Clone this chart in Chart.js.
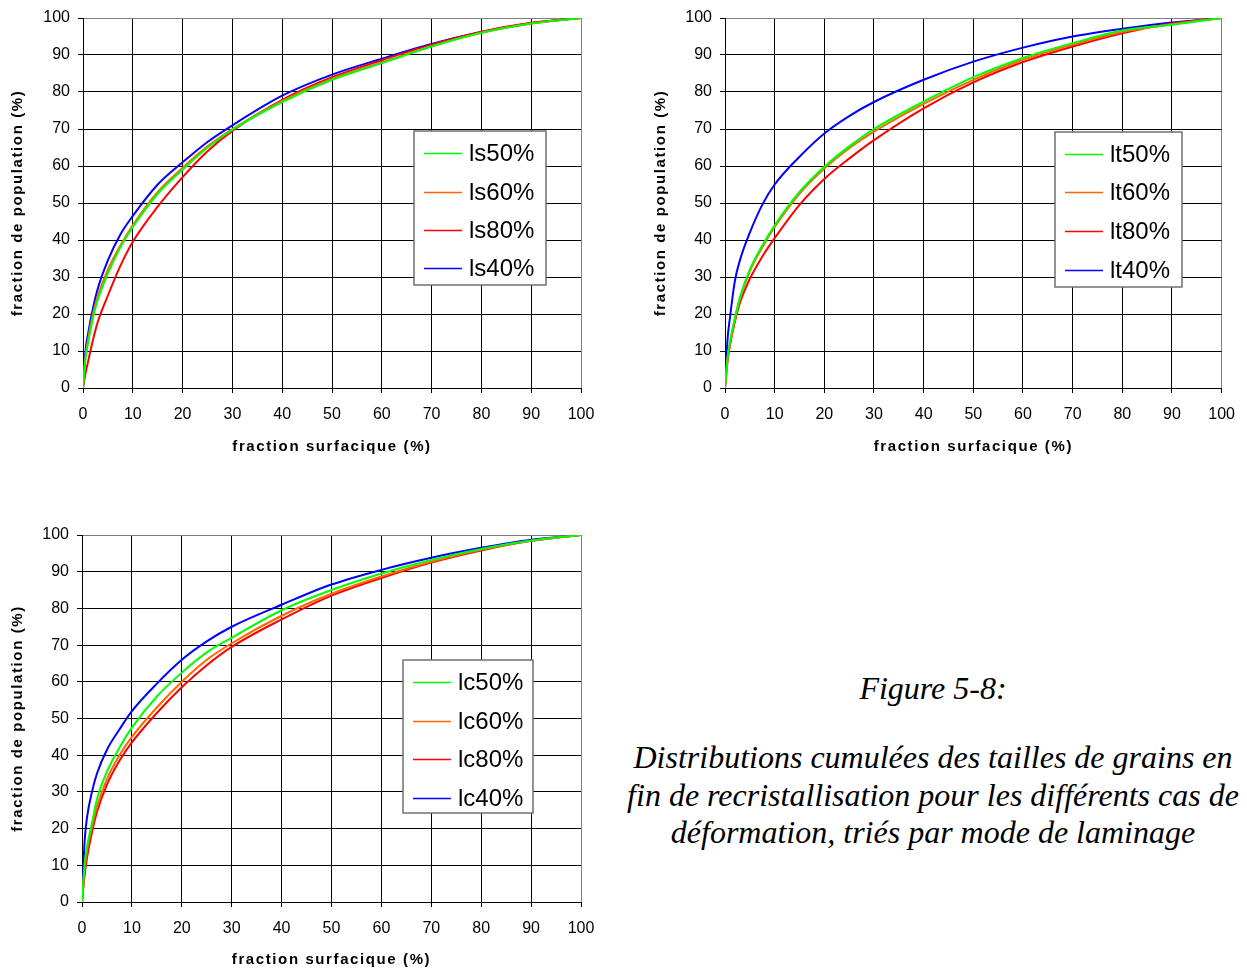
<!DOCTYPE html>
<html>
<head>
<meta charset="utf-8">
<script src="https://cdn.jsdelivr.net/npm/chart.js@4.4.1/dist/chart.umd.min.js"></script>
<style>
  body { margin: 0; background: #fff; width: 1247px; height: 972px; position: relative; overflow: hidden; }
  canvas { position: absolute; }
  .caption {
    position: absolute; left: 620px; width: 626px; text-align: center;
    font-family: "Liberation Serif", "Times New Roman", serif; font-style: italic;
    font-size: 32px; color: #000; white-space: nowrap;
  }
</style>
</head>
<body>
<canvas id="chartLs" width="620" height="470" style="left:0;top:0"></canvas>
<canvas id="chartLt" width="607" height="470" style="left:640px;top:0"></canvas>
<canvas id="chartLc" width="620" height="457" style="left:0;top:515px"></canvas>

<div class="caption" style="top:670px">Figure 5-8:</div>
<div class="caption" style="top:739px;line-height:37.5px">
  Distributions cumulées des tailles de grains en<br>
  fin de recristallisation pour les différents cas de<br>
  déformation, triés par mode de laminage
</div>

<script>
// x positions (fraction surfacique, %)
const xs = [0, 0.5, 1, 2, 3, 5, 7.5, 10, 15, 20, 25, 30, 40, 50, 60, 70, 80, 90, 100];
const colors = ["#00ff00", "#ff6600", "#ff0000", "#0000ff"];

// laminage ls
const lsLabels = ["ls50%", "ls60%", "ls80%", "ls40%"];
const ls50 = [0, 8, 12, 19, 24, 31, 38, 43.5, 52.5, 59, 65, 69.8, 77.3, 83.3, 87.8, 92.3, 96, 98.5, 100];
const ls60 = [0, 8.5, 13, 20, 25, 32, 38.5, 44, 53, 59.5, 65.3, 70, 77.6, 83.6, 88, 92.4, 96, 98.5, 100];
const ls80 = [0, 4, 7, 13, 18, 25, 33, 39.5, 49, 57, 64, 69.5, 77.9, 84, 88.6, 92.8, 96.3, 98.7, 100];
const ls40 = [0, 10, 14.5, 21.5, 27, 34.5, 41.5, 46.5, 55, 61, 66.5, 71, 79, 84.7, 89, 93, 96.2, 98.6, 100];

// laminage lt
const ltLabels = ["lt50%", "lt60%", "lt80%", "lt40%"];
const lt50 = [0, 8, 12.5, 19, 24.5, 32, 38.5, 44, 53, 59.8, 65.3, 70, 77.4, 84, 89.2, 93.2, 96.6, 98.2, 100];
const lt60 = [0, 8, 12, 18.5, 24, 31.5, 38, 43.5, 52.5, 59.3, 64.8, 69.3, 76.8, 83.3, 88.7, 92.8, 96.2, 98.3, 100];
const lt80 = [0, 7, 11.5, 18, 23, 29.5, 35.5, 40.5, 49.5, 56.5, 62, 67, 75.6, 82.6, 88.1, 92.3, 95.9, 98.5, 100];
const lt40 = [0, 13, 19, 29, 34.5, 42, 49.5, 55, 62.5, 68.8, 73.5, 77.3, 83.3, 88.2, 92, 95, 97.1, 98.8, 100];

// laminage lc
const lcLabels = ["lc50%", "lc60%", "lc80%", "lc40%"];
const lc50 = [0, 10, 15, 21.5, 28, 35.5, 42, 47.5, 56, 62.5, 68, 72, 79.5, 85, 89.5, 93.2, 96.2, 98.5, 100];
const lc60 = [0, 9, 14, 20.5, 26, 33.5, 40, 45, 53, 60, 66, 70.5, 78, 84, 88.7, 92.7, 96, 98.4, 100];
const lc80 = [0, 7, 12, 19, 24.5, 32, 38.5, 43.5, 51.5, 58.5, 64.5, 69.5, 77, 83.5, 88.3, 92.5, 95.8, 98.4, 100];
const lc40 = [0, 16, 23, 30, 35, 41.5, 47, 52, 59.5, 66, 71, 75, 81, 86.5, 90.5, 93.8, 96.5, 98.7, 100];

const FONT = "'Liberation Sans', Arial, sans-serif";

// legend drawn as a framed box inside the plot
const boxLegend = {
  id: "boxLegend",
  afterDraw(chart, args, o) {
    const c = chart.ctx;
    c.save();
    c.fillStyle = "#fff";
    c.fillRect(o.x, o.y, o.w, o.h);
    c.strokeStyle = "#707070";
    c.lineWidth = 1.5;
    c.strokeRect(o.x, o.y, o.w, o.h);
    c.font = "24px " + FONT;
    c.textBaseline = "middle";
    c.fillStyle = "#000";
    chart.data.datasets.forEach((ds, i) => {
      const cy = Math.round(o.y + o.first + i * o.step) + 0.5;
      c.strokeStyle = ds.borderColor;
      c.lineWidth = 1.5;
      c.beginPath();
      c.moveTo(o.x + 10, cy);
      c.lineTo(o.x + 48, cy);
      c.stroke();
      c.fillText(ds.label, o.x + 55, cy + 1);
    });
    c.restore();
  },
};

// axis titles, letter-spaced like the original
const axisTitles = {
  id: "axisTitles",
  afterDraw(chart, args, o) {
    const c = chart.ctx;
    const a = chart.chartArea;
    c.save();
    c.font = "bold 15px " + FONT;
    c.fillStyle = "#000";
    c.textAlign = "center";
    c.textBaseline = "middle";
    if ("letterSpacing" in c) c.letterSpacing = "1.6px";
    c.fillText("fraction surfacique (%)", (a.left + a.right) / 2, o.xTitleY);
    c.translate(o.yTitleX, (a.top + a.bottom) / 2);
    c.rotate(-Math.PI / 2);
    c.fillText("fraction de population (%)", 0, 0);
    c.restore();
  },
};

function makeChart(id, labels, series, lay) {
  const datasets = series.map((ys, i) => ({
    label: labels[i],
    data: xs.map((x, k) => ({ x: x, y: ys[k] })),
    borderColor: colors[i],
    borderWidth: 2,
    pointRadius: 0,
    fill: false,
    cubicInterpolationMode: "monotone",
  }));
  const gridColor = (ctx) => (ctx.tick && ctx.tick.value === 100 ? "#808080" : "#000");
  const tickFont = { family: FONT, size: 16 };
  return new Chart(document.getElementById(id), {
    type: "line",
    data: { datasets: datasets },
    options: {
      responsive: false,
      animation: false,
      layout: { autoPadding: false, padding: { top: lay.top, right: lay.right, left: 0, bottom: 0 } },
      plugins: {
        legend: { display: false },
        tooltip: { enabled: false },
        boxLegend: lay.legend,
        axisTitles: { xTitleY: lay.xTitleY, yTitleX: lay.yTitleX },
      },
      scales: {
        x: {
          type: "linear",
          min: 0,
          max: 100,
          afterFit: (s) => { s.height = lay.xHeight; },
          ticks: { stepSize: 10, autoSkip: false, maxRotation: 0, color: "#000", padding: 12, font: tickFont },
          grid: { color: gridColor, lineWidth: 1, tickLength: 5, tickColor: "#000" },
          border: { color: "#000" },
        },
        y: {
          min: 0,
          max: 100,
          afterFit: (s) => { s.width = lay.left; },
          ticks: { stepSize: 10, color: "#000", padding: 8, font: tickFont },
          grid: { color: gridColor, lineWidth: 1, tickLength: 5, tickColor: "#000" },
          border: { color: "#000" },
        },
      },
    },
    plugins: [boxLegend, axisTitles],
  });
}

makeChart("chartLs", lsLabels, [ls50, ls60, ls80, ls40], {
  top: 18, right: 39, left: 83, xHeight: 82, xTitleY: 447, yTitleX: 18,
  legend: { x: 414, y: 131, w: 132, h: 154, first: 22.3, step: 38.3 },
});
makeChart("chartLt", ltLabels, [lt50, lt60, lt80, lt40], {
  top: 18, right: 23, left: 85, xHeight: 82, xTitleY: 447, yTitleX: 21,
  legend: { x: 415, y: 132, w: 127, h: 155, first: 21.5, step: 38.7 },
});
makeChart("chartLc", lcLabels, [lc50, lc60, lc80, lc40], {
  top: 20, right: 39, left: 82, xHeight: 70, xTitleY: 445, yTitleX: 18,
  legend: { x: 403, y: 145, w: 130, h: 153, first: 22, step: 38.5 },
});
</script>
</body>
</html>
